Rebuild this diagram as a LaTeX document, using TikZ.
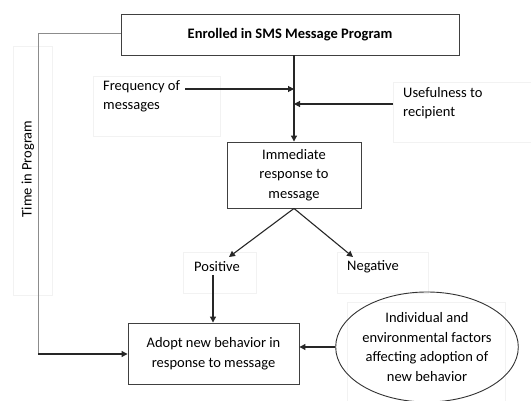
\documentclass[tikz,border=0pt]{standalone}
\usepackage{fontspec}
\setmainfont{Carlito}
\usetikzlibrary{arrows.meta,shapes.geometric}
\begin{document}
\begin{tikzpicture}[x=1pt,y=-1pt,
  every node/.style={font=\fontsize{14.5}{19.5}\selectfont, inner sep=0pt},
  mainbox/.style={draw=black!75, line width=0.9pt, rectangle},
  faint/.style={draw=black!5, line width=0.6pt, rectangle},
  arr/.style={draw=black!85, line width=1.1pt, -{Triangle[length=6pt,width=6pt]}},
  grayline/.style={draw=black!45, line width=0.9pt}]
\useasboundingbox (0,0) rectangle (531,401);
% faint boxes
\node[faint, minimum width=127pt, minimum height=60pt] (fbox) at (156.5,106) {};
\node[faint, minimum width=140pt, minimum height=60pt] (ubox) at (463,112) {};
\node[faint, minimum width=39pt, minimum height=249pt] (tbox) at (32.5,170.5) {};
\node[faint, minimum width=73pt, minimum height=41pt] (pbox) at (219.5,272.5) {};
\node[faint, minimum width=91pt, minimum height=41pt] (nbox) at (382.5,272.5) {};
\node[faint, minimum width=158pt, minimum height=100pt] (ebox) at (426,352) {};
% main nodes
\node[mainbox, minimum width=338pt, minimum height=41pt] (top) at (290,34.5) {\bfseries Enrolled in SMS Message Program};
\node[mainbox, minimum width=134pt, minimum height=66pt, align=center] (imm) at (294,175) {Immediate\\response to\\message};
\node[mainbox, minimum width=171pt, minimum height=61pt, align=center] (adopt) at (213.5,353.5) {Adopt new behavior in\\response to message};
\node[draw=black!80, line width=0.9pt, ellipse, minimum width=156pt, minimum height=110pt, align=center] (env) at (427,347) {Individual and\\environmental factors\\affecting adoption of\\new behavior};
% text labels
\node[anchor=north west, align=left] (freq) at (103,80) {Frequency of\\messages};
\node[anchor=north west, align=left] (use) at (403,87) {Usefulness to\\recipient};
\node[rotate=90] (time) at (28,169) {Time in Program};
\node (pos) at (217,267) {Positive};
\node (neg) at (373,267) {Negative};
% coordinates
\coordinate (fstart) at (185,89);
\coordinate (fend) at (294,89);
\coordinate (ustart) at (393,104);
\coordinate (uend) at (294,104);
\coordinate (tcorner) at (38,33);
\coordinate (bcorner) at (38,354);
% connectors
\draw[arr] (top.south -| imm.north) -- (imm.north);
\draw[arr] (fstart) -- (fend);
\draw[arr] (ustart) -- (uend);
\draw[arr] (imm.south) -- (229,257);
\draw[arr] (imm.south) -- (353,257);
\draw[arr] (213,275) -- (adopt.north -| 213,0);
\draw[grayline] (top.west |- tcorner) -- (tcorner) -- (bcorner);
\draw[arr] (bcorner) -- (adopt.west |- bcorner);
\draw[arr] (env.west) -- (adopt.east |- env.west);
\end{tikzpicture}
\end{document}
